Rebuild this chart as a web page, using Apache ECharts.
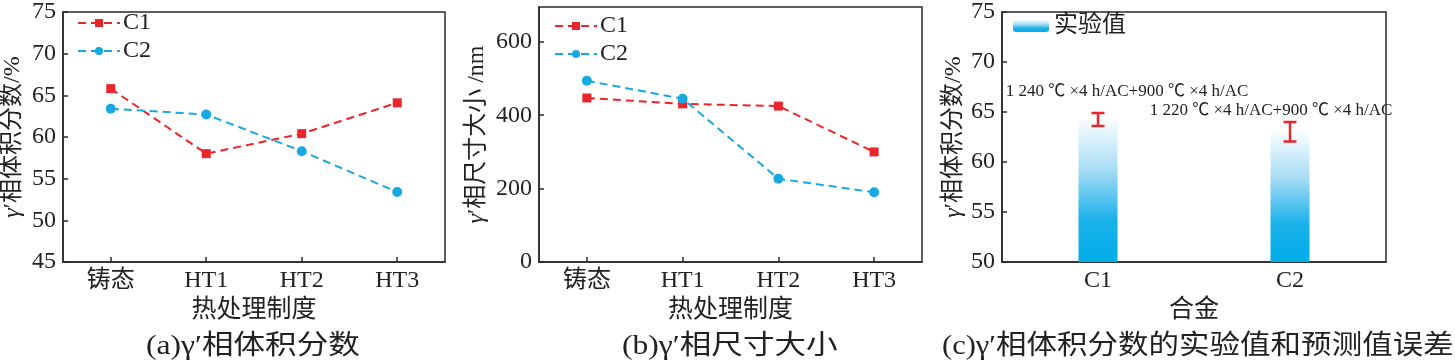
<!DOCTYPE html>
<html>
<head>
<meta charset="utf-8">
<script src="https://cdn.jsdelivr.net/npm/echarts@6/dist/echarts.min.js"></script>
<style>html,body{margin:0;padding:0;background:#fff}#c{width:1455px;height:362px}</style>
</head>
<body>
<div id="c"></div>
<script>
// ---- data ----
const heatCats = ['铸态', 'HT1', 'HT2', 'HT3'];
const fracC1 = [65.8, 58.0, 60.4, 64.1];
const fracC2 = [63.4, 62.7, 58.3, 53.4];
const sizeC1 = [447, 431, 425, 300];
const sizeC2 = [494, 445, 227, 190];
const alloyCats = ['C1', 'C2'];
const expValues = [64.25, 63.0];
const expErrLow = [63.6, 62.05];
const expErrHigh = [64.9, 64.0];
const expNotes = ['1 240 ℃ ×4 h/AC+900 ℃ ×4 h/AC', '1 220 ℃ ×4 h/AC+900 ℃ ×4 h/AC'];
const sizeTicks = [0, 200, 400, 600];

const RED = '#e8262b', BLUE = '#17a9e1', AX = '#2a2a2a';
const SERIF = '"Liberation Serif", "Noto Sans CJK SC", serif';
const txt = {fontFamily: SERIF, color: '#222', fontSize: 24};
const nameTxt = {fontFamily: SERIF, color: '#222', fontSize: 25};

function yName() {
  return {
    nameTextStyle: Object.assign({}, txt, {rich: {i: Object.assign({}, txt, {fontStyle: 'italic'}), n: txt}})
  };
}
function baseAxis() {
  return {
    axisLine: {show: true, lineStyle: {color: AX, width: 1.5}},
    axisTick: {show: true, inside: true, length: 5, lineStyle: {color: AX, width: 1.5}},
    axisLabel: Object.assign({}, txt, {margin: 7}),
    splitLine: {show: false}
  };
}
function catX(gi, data, name, gap) {
  return Object.assign(baseAxis(), {
    type: 'category', gridIndex: gi, data: data, boundaryGap: true,
    axisTick: {show: true, inside: true, length: 5, alignWithLabel: true, lineStyle: {color: AX, width: 1.5}},
    name: name, nameLocation: 'middle', nameGap: gap, nameTextStyle: nameTxt
  });
}
const gridBase = {show: true, borderColor: AX, borderWidth: 1.5, top: 7, bottom: 100, containLabel: false};

const lineSeries = (name, data, xi, color, sym) => ({
  name: name, type: 'line', xAxisIndex: xi, yAxisIndex: xi, data: data,
  symbol: sym, symbolSize: sym === 'rect' ? 9 : 10,
  lineStyle: {color: color, width: 2, type: [8, 5]},
  itemStyle: {color: color}
});

const barGrad = new echarts.graphic.LinearGradient(0, 0, 0, 1, [
  {offset: 0, color: '#f9fdff'},
  {offset: 0.35, color: '#a8ddf5'},
  {offset: 0.7, color: '#1cb1ea'},
  {offset: 1, color: '#00aee8'}
]);

const capFont = '27px ' + SERIF;
const option = {
  animation: false,
  backgroundColor: '#fff',
  grid: [
    Object.assign({}, gridBase, {left: 62, right: 1010}),
    Object.assign({}, gridBase, {left: 539, right: 533}),
    Object.assign({}, gridBase, {left: 1002, right: 69})
  ],
  legend: [
    {data: ['C1', 'C2'], orient: 'vertical', left: 72, top: 6, itemWidth: 42, itemHeight: 10, itemGap: 4, itemGap: 4, textStyle: Object.assign({}, txt, {padding: [0, 0, 0, -2]})},
    {data: ['C1 ', 'C2 '], orient: 'vertical', left: 549, top: 9, itemWidth: 42, itemHeight: 10, itemGap: 4, textStyle: Object.assign({}, txt, {padding: [0, 0, 0, -2]})},
    {data: ['实验值'], left: 1008, top: 9, itemWidth: 36, itemHeight: 12, textStyle: txt}
  ],
  xAxis: [
    catX(0, heatCats, '热处理制度', 35),
    catX(1, heatCats, '热处理制度', 35),
    catX(2, alloyCats, '合金', 22)
  ],
  yAxis: [
    Object.assign(baseAxis(), yName(), {type: 'value', gridIndex: 0, min: 45, max: 75, interval: 5,
      name: '{i|γ}{n|′相体积分数/%}', nameLocation: 'middle', nameGap: 38}),
    Object.assign(baseAxis(), yName(), {type: 'value', gridIndex: 1, min: 0, max: 695, interval: 200,
      axisLabel: Object.assign({}, txt, {margin: 7, customValues: sizeTicks}),
      axisTick: {show: true, inside: true, length: 5, customValues: sizeTicks, lineStyle: {color: AX, width: 1.5}},
      name: '{i|γ}{n|′相尺寸大小 /nm}', nameLocation: 'middle', nameGap: 50}),
    Object.assign(baseAxis(), yName(), {type: 'value', gridIndex: 2, min: 50, max: 75, interval: 5,
      name: '{i|γ}{n|′相体积分数/%}', nameLocation: 'middle', nameGap: 36})
  ],
  series: [
    lineSeries('C1', fracC1, 0, RED, 'rect'),
    lineSeries('C2', fracC2, 0, BLUE, 'circle'),
    lineSeries('C1 ', sizeC1, 1, RED, 'rect'),
    lineSeries('C2 ', sizeC2, 1, BLUE, 'circle'),
    {
      name: '实验值', type: 'bar', xAxisIndex: 2, yAxisIndex: 2, barWidth: 39,
      itemStyle: {color: barGrad},
      data: expValues.map((v, i) => ({
        value: v,
        label: {show: true, position: 'top', offset: i === 0 ? [29, -14] : [-19, -8],
          formatter: expNotes[i], fontFamily: SERIF, fontSize: 17, color: '#222'}
      }))
    },
    {
      type: 'custom', xAxisIndex: 2, yAxisIndex: 2,
      data: expErrLow.map((lo, i) => [i, lo, expErrHigh[i]]),
      renderItem: function (params, api) {
        const lo = api.coord([api.value(0), api.value(1)]);
        const hi = api.coord([api.value(0), api.value(2)]);
        const w = 6.5;
        const st = {stroke: RED, lineWidth: 2.5};
        return {type: 'group', children: [
          {type: 'line', shape: {x1: hi[0], y1: hi[1], x2: lo[0], y2: lo[1]}, style: st},
          {type: 'line', shape: {x1: hi[0] - w, y1: hi[1], x2: hi[0] + w, y2: hi[1]}, style: st},
          {type: 'line', shape: {x1: lo[0] - w, y1: lo[1], x2: lo[0] + w, y2: lo[1]}, style: st}
        ]};
      },
      z: 5
    }
  ],
  graphic: [
    {type: 'text', x: 146, y: 333, scaleX: 1.17, style: {text: '(a)γ′相体积分数', font: capFont, fill: '#222'}},
    {type: 'text', x: 622, y: 333, scaleX: 1.17, style: {text: '(b)γ′相尺寸大小', font: capFont, fill: '#222'}},
    {type: 'text', x: 942, y: 333, scaleX: 1.13, style: {text: '(c)γ′相体积分数的实验值和预测值误差', font: capFont, fill: '#222'}}
  ]
};
echarts.init(document.getElementById('c'), null, {renderer: 'canvas'}).setOption(option);
</script>
</body>
</html>
